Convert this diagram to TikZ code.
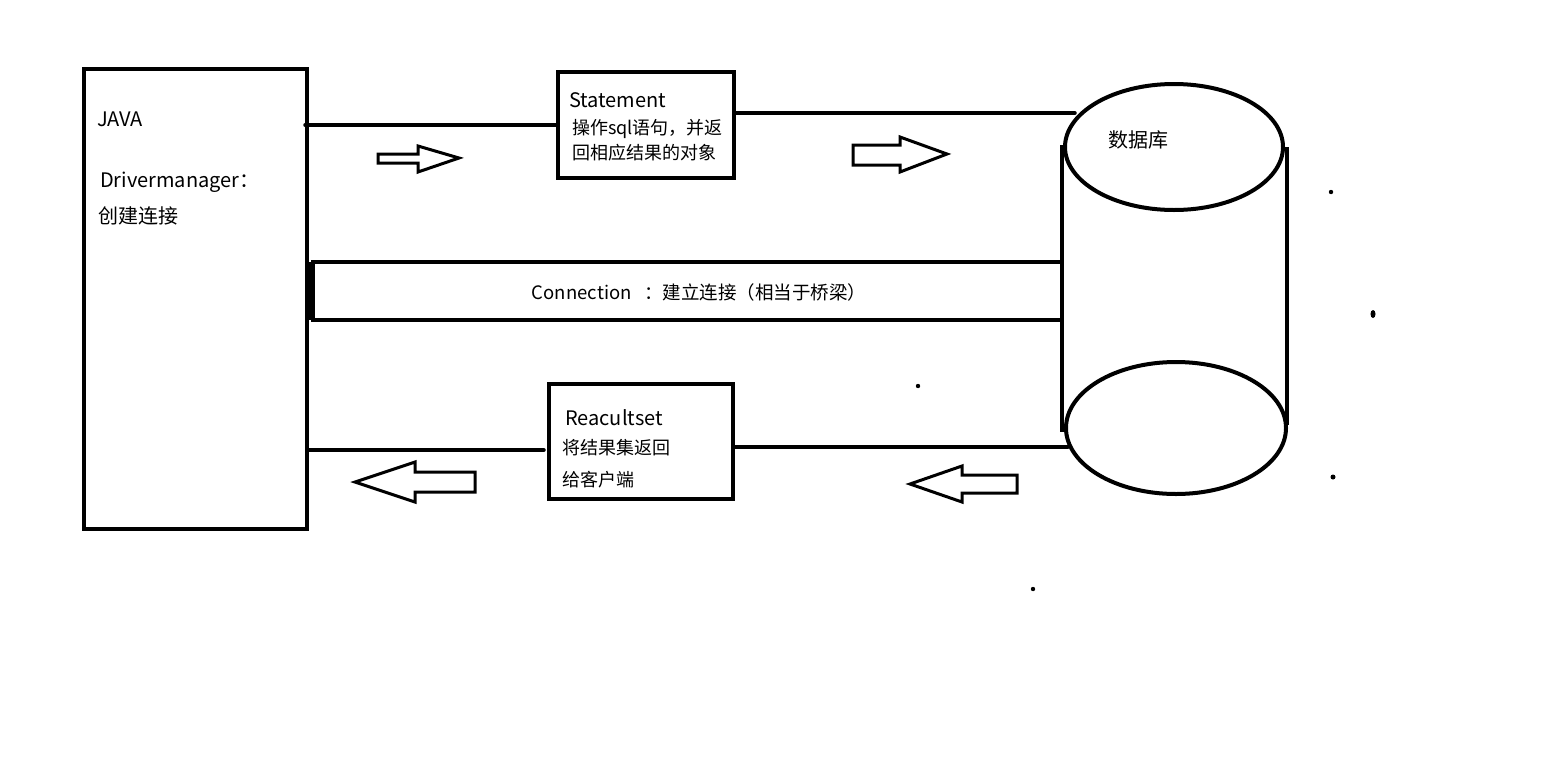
\documentclass[tikz,border=0pt]{standalone}
\usepackage{fontspec}
\setmainfont{Noto Sans CJK SC}
\begin{document}
\begin{tikzpicture}[x=1pt,y=-1pt,
  thickbox/.style={draw=black,line width=4pt,fill=white},
  conn/.style={draw=black,line width=3.5pt,line cap=round},
  fatarrow/.style={draw=black,line width=3pt,fill=white,line join=miter},
  lbl/.style={anchor=west,inner sep=0pt,font=\fontsize{20}{24}\selectfont},
  small/.style={anchor=west,inner sep=0pt,font=\fontsize{18}{21}\selectfont},
  dotmark/.style={fill=black}]
\useasboundingbox (0,0) rectangle (1543,777);
% connection band
\node[draw=none,minimum width=750pt,minimum height=58pt,inner sep=0pt,anchor=north west] (band) at (311,262) {};
\draw[line width=4pt] (band.north west) -- (band.north east);
\draw[line width=4pt] (band.south west) -- (band.south east);
\draw[line width=7pt] (band.north west) -- (band.south west);
\node[font=\fontsize{18.5}{22}\selectfont,inner sep=0pt] (bandtxt) at (699,292) {Connection\ \ \ ：建立连接（相当于桥梁）};
% JAVA box
\node[thickbox,minimum width=223pt,minimum height=460pt,inner sep=0pt,anchor=north west] (java) at (82,67) {};
\node[lbl] (javatxt) at (97,119) {JAVA};
\node[lbl] (dmtxt) at (100,182) {Drivermanager：};
\node[lbl] (cjtxt) at (98,216) {创建连接};
% Statement box
\node[thickbox,minimum width=176pt,minimum height=106pt,inner sep=0pt,anchor=north west] (stmt) at (556,70) {};
\node[lbl] (stmttxt) at (569,100) {Statement};
\node[small] (stmt1) at (572,129) {操作sql语句，并返};
\node[small] (stmt2) at (572,153) {回相应结果的对象};
% Resultset box
\node[thickbox,minimum width=184pt,minimum height=115pt,inner sep=0pt,anchor=north west] (rs) at (547,382) {};
\node[lbl] (rstxt) at (565,418) {Reacultset};
\node[small] (rs1) at (562,448) {将结果集返回};
\node[small] (rs2) at (562,480) {给客户端};
% database cylinder
\draw[line width=4pt] (1062,145) -- (1062,432);
\draw[line width=4pt] (1287,147) -- (1287,425);
\draw[thickbox] (1174,147) ellipse [x radius=109pt, y radius=63pt];
\draw[thickbox] (1176,428) ellipse [x radius=110pt, y radius=66pt];
\node[lbl] (dbtxt) at (1108,140) {数据库};
\coordinate (dbtop) at (1075,113);
\coordinate (dbbot) at (1068,447);
% connectors
\coordinate (j1) at (java.east |- 0,125);
\coordinate (j2) at (java.east |- 0,450);
\draw[conn] ([xshift=-4pt]j1) -- (stmt.west |- j1);
\draw[conn] (stmt.east |- dbtop) -- (dbtop);
\draw[conn] ([xshift=-1pt]j2) -- ([xshift=-3pt]rs.west |- j2);
\draw[conn] (rs.east |- dbbot) -- (dbbot);
% hollow arrows
\draw[fatarrow] (378,154) -- (418,154) -- (418,146) -- (459,158) -- (418,172) -- (418,163) -- (378,163) -- cycle;
\draw[fatarrow] (853,145) -- (900,145) -- (900,137) -- (947,154) -- (900,172) -- (900,165) -- (853,165) -- cycle;
\draw[fatarrow] (355,482) -- (415,462) -- (415,472) -- (475,472) -- (475,492) -- (415,492) -- (415,502) -- cycle;
\draw[fatarrow] (910,484) -- (962,466) -- (962,475) -- (1017,475) -- (1017,493) -- (962,493) -- (962,502) -- cycle;
% stray dots
\fill[dotmark] (1331,192) circle (2.2pt);
\fill[dotmark] (1373,314) ellipse [x radius=2.5pt, y radius=4pt];
\fill[dotmark] (918,386) circle (2.2pt);
\fill[dotmark] (1333,477) circle (2.5pt);
\fill[dotmark] (1033,589) circle (2.2pt);
\end{tikzpicture}
\end{document}
